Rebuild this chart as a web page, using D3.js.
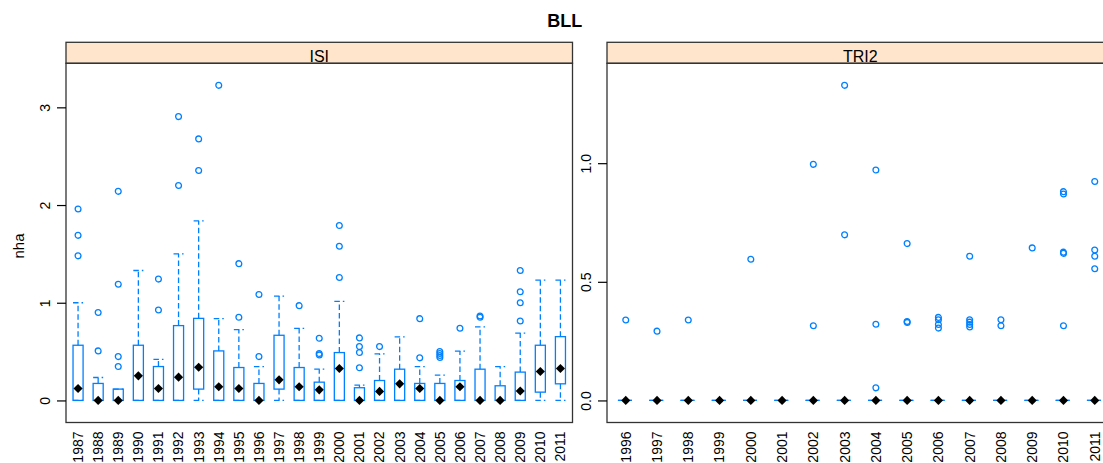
<!DOCTYPE html>
<html>
<head>
<meta charset="utf-8">
<script src="https://cdn.jsdelivr.net/npm/d3@7"></script>
<style>
  body { margin: 0; background: #fff; }
  svg { display: block; }
  text { font-family: "Liberation Sans", Arial, Helvetica, sans-serif; fill: #000; }
</style>
</head>
<body>
<svg id="chart" width="1103" height="463"></svg>
<script>
// ---- ISI panel: yearly box statistics of nha ----
const isiYears = ["1987","1988","1989","1990","1991","1992","1993","1994","1995","1996","1997","1998","1999",
                  "2000","2001","2002","2003","2004","2005","2006","2007","2008","2009","2010","2011"];
const isiLow  = [0,0,0,0,0,0,0,0,0,0,0,0,0,0,0,0,0,0,0,0,0,0,0,0,0];
const isiQ1   = [0,0,0,0,0,0,0.116,0,0,0,0.116,0,0,0,0,0,0,0,0,0,0,0,0,0.085,0.17];
const isiMed  = [0.122,0,0,0.252,0.122,0.238,0.34,0.14,0.122,0,0.211,0.14,0.109,
                 0.327,0,0.092,0.17,0.122,0,0.14,0,0,0.097,0.296,0.327];
const isiQ3   = [0.565,0.174,0.116,0.565,0.347,0.766,0.84,0.507,0.337,0.174,0.667,0.337,0.187,
                 0.49,0.13,0.204,0.32,0.174,0.174,0.204,0.32,0.15,0.29,0.565,0.653];
const isiHigh = [1.0,0.235,0.116,1.33,0.42,1.50,1.837,0.837,0.725,0.347,1.068,0.738,0.32,
                 1.014,0.157,0.477,0.65,0.347,0.26,0.505,0.753,0.347,0.69,1.232,1.232];
const isiOut  = [[1.96,1.69,1.48],[0.90,0.507],[2.14,1.19,0.449,0.347],[],[1.242,0.926],
                 [2.905,2.20],[2.677,2.354],[3.225],[1.40,0.851],[1.085,0.449],[],[0.97],
                 [0.636,0.48,0.466],[1.79,1.578,1.259],[0.64,0.551,0.49,0.334],[0.551],[],
                 [0.837,0.436],[0.50,0.48,0.46,0.44],[0.739],[0.864,0.851],[],
                 [1.33,1.112,1.0,0.813],[],[]];

// ---- TRI2 panel ----
const triYears = ["1996","1997","1998","1999","2000","2001","2002","2003","2004","2005","2006",
                  "2007","2008","2009","2010","2011"];
const triLow  = [0,0,0,0,0,0,0,0,0,0,0,0,0,0,0,0];
const triQ1   = [0,0,0,0,0,0,0,0,0,0,0,0,0,0,0,0];
const triMed  = [0,0,0,0,0,0,0,0,0,0,0,0,0,0,0,0];
const triQ3   = [0,0,0,0,0,0,0,0,0,0,0,0,0,0,0,0];
const triHigh = [0,0,0,0,0,0,0,0,0,0,0,0,0,0,0,0];
const triOut  = [[0.339],[0.292],[0.339],[],[0.595],[],[0.995,0.315],[1.328,0.698],
                 [0.971,0.321,0.053],[0.661,0.333,0.329],[0.35,0.34,0.32,0.305],
                 [0.608,0.34,0.33,0.32,0.31],[0.34,0.315],[0.643],
                 [0.88,0.87,0.625,0.62,0.315],[0.923,0.634,0.608,0.555]];

// ---- tick labels, titles ----
const isiTicks = [0, 1, 2, 3];
const triTicks = [0, 0.5, 1.0];
const mainTitle = "BLL";
const yTitle = "nha";

const BLUE = "#0080ff";
const BORDER = "#333";
const STRIP = "#ffe5cc";
const stripTop = 42.3, panelTop = 63.3, panelBottom = 422.5;

const svg = d3.select("#chart");

function drawPanel(o) {
  const g = svg.append("g");

  // vertical scale: data range stretched by 7% on each side
  const vals = o.high.concat(o.out.flat(), o.low);
  const lo = d3.min(vals), hi = d3.max(vals), ext = 0.07 * (hi - lo);
  const y = d3.scaleLinear().domain([lo - ext, hi + ext]).range([panelBottom, panelTop]);

  const x = d3.scalePoint().domain(o.years).range([o.x0, o.x1]).padding(0.6);
  const bw = x.step() * 0.5;

  // strip with panel name
  g.append("rect").attr("x", o.x0).attr("y", stripTop)
    .attr("width", o.x1 - o.x0).attr("height", panelTop - stripTop)
    .attr("fill", STRIP).attr("stroke", BORDER).attr("stroke-width", 1.3);
  g.append("text").attr("x", (o.x0 + o.x1) / 2).attr("y", 61.5)
    .attr("text-anchor", "middle").attr("font-size", 16).text(o.name);

  const boxes = g.append("g").selectAll("g").data(o.years).join("g")
    .attr("transform", d => `translate(${x(d)},0)`);

  const dash = "5.5,3";
  const sw = 1.3;
  // whiskers
  boxes.append("line").attr("x1", 0).attr("x2", 0)
    .attr("y1", (d, i) => y(o.q3[i])).attr("y2", (d, i) => y(o.high[i]))
    .attr("stroke", BLUE).attr("stroke-width", sw).attr("stroke-dasharray", dash);
  boxes.append("line").attr("x1", 0).attr("x2", 0)
    .attr("y1", (d, i) => y(o.q1[i])).attr("y2", (d, i) => y(o.low[i]))
    .attr("stroke", BLUE).attr("stroke-width", sw).attr("stroke-dasharray", dash);
  // whisker ends
  boxes.append("line").attr("x1", -bw / 2).attr("x2", bw / 2)
    .attr("y1", (d, i) => y(o.high[i])).attr("y2", (d, i) => y(o.high[i]))
    .attr("stroke", BLUE).attr("stroke-width", sw).attr("stroke-dasharray", dash);
  boxes.append("line").attr("x1", -bw / 2).attr("x2", bw / 2)
    .attr("y1", (d, i) => y(o.low[i])).attr("y2", (d, i) => y(o.low[i]))
    .attr("stroke", BLUE).attr("stroke-width", sw).attr("stroke-dasharray", dash);
  // box
  boxes.append("rect").attr("x", -bw / 2).attr("width", bw)
    .attr("y", (d, i) => y(o.q3[i]))
    .attr("height", (d, i) => y(o.q1[i]) - y(o.q3[i]))
    .attr("fill", "none").attr("stroke", BLUE).attr("stroke-width", sw);
  // median
  boxes.append("path")
    .attr("d", d3.symbol(d3.symbolSquare, 42)())
    .attr("transform", (d, i) => `translate(0,${y(o.med[i])}) rotate(45)`)
    .attr("fill", "#000");
  // outliers
  boxes.each(function (d, i) {
    d3.select(this).selectAll("circle").data(o.out[i]).join("circle")
      .attr("cx", 0).attr("cy", v => y(v)).attr("r", 2.9)
      .attr("fill", "none").attr("stroke", BLUE).attr("stroke-width", 1.3);
  });

  // panel frame
  g.append("rect").attr("x", o.x0).attr("y", panelTop)
    .attr("width", o.x1 - o.x0).attr("height", panelBottom - panelTop)
    .attr("fill", "none").attr("stroke", BORDER).attr("stroke-width", 1.3);

  // y axis on the left of the panel
  const ax = g.append("g").attr("transform", `translate(${o.x0},0)`)
    .call(d3.axisLeft(y).tickValues(o.ticks).tickSize(9).tickPadding(0).tickFormat(o.fmt));
  ax.select(".domain").remove();
  ax.selectAll(".tick line").attr("stroke", "#000").attr("stroke-width", 1.2);
  ax.selectAll(".tick text")
    .attr("x", 0).attr("y", 0).attr("dy", "0.35em")
    .attr("text-anchor", "middle")
    .attr("transform", "translate(-21,0) rotate(-90)")
    .attr("font-size", 14).attr("font-family", null).attr("fill", "#000");

  // category labels under the panel
  g.append("g").selectAll("text").data(o.years).join("text")
    .attr("transform", d => `translate(${x(d)},431.5) rotate(-90)`)
    .attr("dy", "0.35em").attr("text-anchor", "end")
    .attr("font-size", 14).text(d => d);
}

drawPanel({ name: "ISI", x0: 66, x1: 572.5, years: isiYears,
            low: isiLow, q1: isiQ1, med: isiMed, q3: isiQ3, high: isiHigh, out: isiOut,
            ticks: isiTicks, fmt: d3.format("d") });
drawPanel({ name: "TRI2", x0: 607, x1: 1113.5, years: triYears,
            low: triLow, q1: triQ1, med: triMed, q3: triQ3, high: triHigh, out: triOut,
            ticks: triTicks, fmt: d3.format(".1f") });

// overall title and y axis title
svg.append("text").attr("x", 564.7).attr("y", 26.5).attr("text-anchor", "middle")
  .attr("font-size", 18).attr("font-weight", "bold").text(mainTitle);
svg.append("text").attr("transform", "translate(18.5,246) rotate(-90)")
  .attr("dy", "0.35em").attr("text-anchor", "middle").attr("font-size", 15).text(yTitle);
</script>
</body>
</html>
